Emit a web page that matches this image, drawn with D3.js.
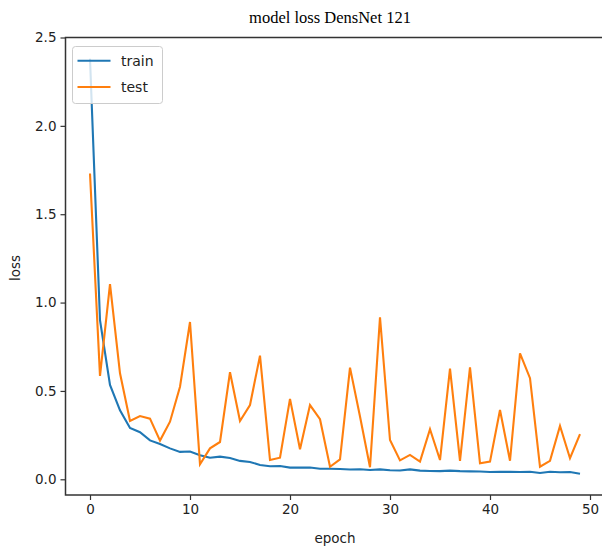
<!DOCTYPE html>
<html>
<head>
<meta charset="utf-8">
<script src="https://cdn.jsdelivr.net/npm/d3@7"></script>
<style>
  body { margin: 0; background: #fff; }
  svg { display: block; }
</style>
</head>
<body>
<script>
// loss per epoch
var epochs = d3.range(0, 50);

var train = [2.38, 0.90, 0.534, 0.39, 0.29, 0.266, 0.22, 0.20, 0.175, 0.155,
             0.157, 0.136, 0.122, 0.128, 0.12, 0.104, 0.098, 0.081, 0.074, 0.075,
             0.066, 0.066, 0.067, 0.060, 0.060, 0.058, 0.055, 0.057, 0.053, 0.056,
             0.051, 0.050, 0.056, 0.049, 0.047, 0.046, 0.049, 0.046, 0.045, 0.044,
             0.041, 0.043, 0.042, 0.041, 0.043, 0.036, 0.043, 0.040, 0.041, 0.031];

var test = [1.73, 0.585, 1.104, 0.60, 0.33, 0.358, 0.343, 0.219, 0.326, 0.524,
            0.89, 0.085, 0.175, 0.211, 0.606, 0.33, 0.42, 0.70, 0.109, 0.122,
            0.455, 0.17, 0.42, 0.34, 0.071, 0.113, 0.632, 0.355, 0.068, 0.917,
            0.222, 0.107, 0.138, 0.10, 0.283, 0.109, 0.626, 0.104, 0.634, 0.09,
            0.10, 0.392, 0.105, 0.713, 0.572, 0.071, 0.104, 0.302, 0.119, 0.256];

var xTicks = [0, 10, 20, 30, 40, 50];
var yTicks = [0.0, 0.5, 1.0, 1.5, 2.0, 2.5];

var width = 602, height = 551;
var plotLeft = 65.5, plotRight = 604.5, plotTop = 37.5, plotBottom = 495;

var svg = d3.select("body")
    .append("svg")
    .attr("width", width)
    .attr("height", height);

var x = d3.scaleLinear().domain([-2.45, 51.45]).range([plotLeft, plotRight]);
var y = d3.scaleLinear().domain([-0.0889, 2.5]).range([plotBottom, plotTop]);

var tickFont = "'DejaVu Sans', sans-serif";

// axes
var xAxis = svg.append("g")
    .attr("transform", "translate(0," + plotBottom + ")")
    .call(d3.axisBottom(x).tickValues(xTicks).tickFormat(d3.format("d")).tickSize(5).tickPadding(4));

var yAxis = svg.append("g")
    .attr("transform", "translate(" + plotLeft + ",0)")
    .call(d3.axisLeft(y).tickValues(yTicks).tickFormat(d3.format(".1f")).tickSize(5).tickPadding(4));

[xAxis, yAxis].forEach(function(a){
    a.select(".domain").remove();
    a.selectAll("line").attr("stroke", "#333").attr("stroke-width", 1.2);
    a.selectAll("text")
        .attr("fill", "#222")
        .style("font-family", tickFont)
        .style("font-size", "13.5px");
});

// spines (right one falls outside the window)
svg.append("rect")
    .attr("x", plotLeft)
    .attr("y", plotTop)
    .attr("width", plotRight - plotLeft)
    .attr("height", plotBottom - plotTop)
    .attr("fill", "none")
    .attr("stroke", "#333")
    .attr("stroke-width", 1.5);

var line = d3.line()
    .x(function(d, i){ return x(epochs[i]); })
    .y(function(d){ return y(d); });

svg.append("path")
    .datum(train)
    .attr("d", line)
    .attr("fill", "none")
    .attr("stroke", "#1f77b4")
    .attr("stroke-width", 2.1);

svg.append("path")
    .datum(test)
    .attr("d", line)
    .attr("fill", "none")
    .attr("stroke", "#ff7f0e")
    .attr("stroke-width", 2.1);

// title and labels
svg.append("text")
    .attr("x", 330)
    .attr("y", 23)
    .attr("text-anchor", "middle")
    .style("font-family", "'Liberation Serif', serif")
    .style("font-size", "16.5px")
    .attr("fill", "#000")
    .text("model loss DensNet 121");

svg.append("text")
    .attr("x", 335)
    .attr("y", 543)
    .attr("text-anchor", "middle")
    .style("font-family", tickFont)
    .style("font-size", "13.5px")
    .attr("fill", "#222")
    .text("epoch");

svg.append("text")
    .attr("transform", "translate(20,268) rotate(-90)")
    .attr("text-anchor", "middle")
    .style("font-family", tickFont)
    .style("font-size", "13.5px")
    .attr("fill", "#222")
    .text("loss");

// legend
var legend = svg.append("g");
legend.append("rect")
    .attr("x", 72.5)
    .attr("y", 46.5)
    .attr("width", 90)
    .attr("height", 57)
    .attr("rx", 3)
    .attr("fill", "white")
    .attr("fill-opacity", 0.8)
    .attr("stroke", "#ccc")
    .attr("stroke-width", 1);

var items = [{name: "train", color: "#1f77b4"}, {name: "test", color: "#ff7f0e"}];
items.forEach(function(it, i){
    var ly = 60.7 + i * 26.3;
    legend.append("line")
        .attr("x1", 77.5).attr("x2", 110.5)
        .attr("y1", ly).attr("y2", ly)
        .attr("stroke", it.color)
        .attr("stroke-width", 2.1);
    legend.append("text")
        .attr("x", 121)
        .attr("y", ly + 5)
        .style("font-family", tickFont)
        .style("font-size", "14px")
        .attr("fill", "#222")
        .text(it.name);
});
</script>
</body>
</html>
